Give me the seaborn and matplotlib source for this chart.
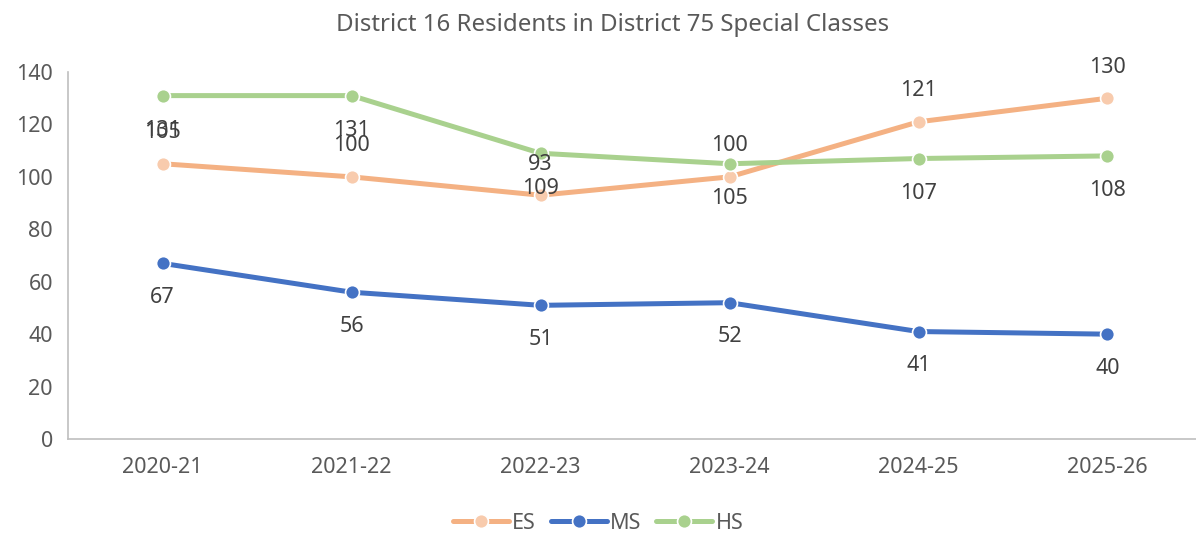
import matplotlib
matplotlib.use("Agg")
import matplotlib.pyplot as plt
import seaborn as sns
import pandas as pd
from matplotlib.lines import Line2D

years = ["2020-21", "2021-22", "2022-23", "2023-24", "2024-25", "2025-26"]
es = [105, 100, 93, 100, 121, 130]
ms = [67, 56, 51, 52, 41, 40]
hs = [131, 131, 109, 105, 107, 108]
series_names = ["ES", "MS", "HS"]
title = "District 16 Residents in District 75 Special Classes"

line_colors = {"ES": "#F4B183", "MS": "#4472C4", "HS": "#A9D18E"}
marker_colors = {"ES": "#F8CBAD", "MS": "#4472C4", "HS": "#A9D18E"}
label_offsets = {"ES": 22.3, "MS": -24.5, "HS": -25.2}  # points

sns.set_theme(style="white")
plt.rcParams["font.family"] = ["Noto Sans", "DejaVu Sans"]
txt = "#595959"

df = pd.DataFrame({
    "Year": years * 3,
    "Value": es + ms + hs,
    "Series": ["ES"] * 6 + ["MS"] * 6 + ["HS"] * 6,
})
df["x"] = df["Year"].map({y: i for i, y in enumerate(years)})

fig = plt.figure(figsize=(11.96, 5.35), dpi=100)
ax = fig.add_axes([0.057, 0.1794, 0.948, 0.6860])

sns.lineplot(data=df, x="x", y="Value", hue="Series", hue_order=series_names,
             palette=line_colors, linewidth=3.6, ax=ax, legend=False, sort=False)
for name in series_names:
    sub = df[df["Series"] == name]
    ax.plot(sub["x"], sub["Value"], linestyle="none", marker="o", markersize=10,
            markerfacecolor=marker_colors[name], markeredgecolor="white",
            markeredgewidth=1.2, zorder=4)
    for xv, yv in zip(sub["x"], sub["Value"]):
        ax.annotate(str(yv), (xv, yv), xytext=(0, label_offsets[name]),
                    textcoords="offset points", ha="center", va="center",
                    fontsize=15.5, color="#404040", zorder=5)

ax.set_xlim(-0.5, 5.5)
ax.set_ylim(0, 140)
ax.set_yticks(range(0, 141, 20))
ax.set_xticks(range(len(years)))
ax.set_xticklabels(years)
ax.tick_params(axis="both", labelsize=15.5, colors=txt, length=0, pad=11)
ax.tick_params(axis="x", pad=13)
ax.set_xlabel("")
ax.set_ylabel("")
for s in ["top", "right"]:
    ax.spines[s].set_visible(False)
for s in ["left", "bottom"]:
    ax.spines[s].set_color("#BFBFBF")
    ax.spines[s].set_linewidth(1.2)

fig.text(0.512, 0.953, title, ha="center", va="center", fontsize=17.3, color=txt)

handles = [Line2D([0], [0], color=line_colors[n], linewidth=3.6, marker="o",
                  markersize=10, markerfacecolor=marker_colors[n],
                  markeredgecolor="white", markeredgewidth=1.2)
           for n in series_names]
fig.legend(handles, series_names, loc="center", bbox_to_anchor=(0.5, 0.022),
           ncol=3, frameon=False, fontsize=15.5, handlelength=2.6,
           columnspacing=0.7, handletextpad=0.15, labelcolor=txt)

fig.savefig("out.png", dpi=100)
